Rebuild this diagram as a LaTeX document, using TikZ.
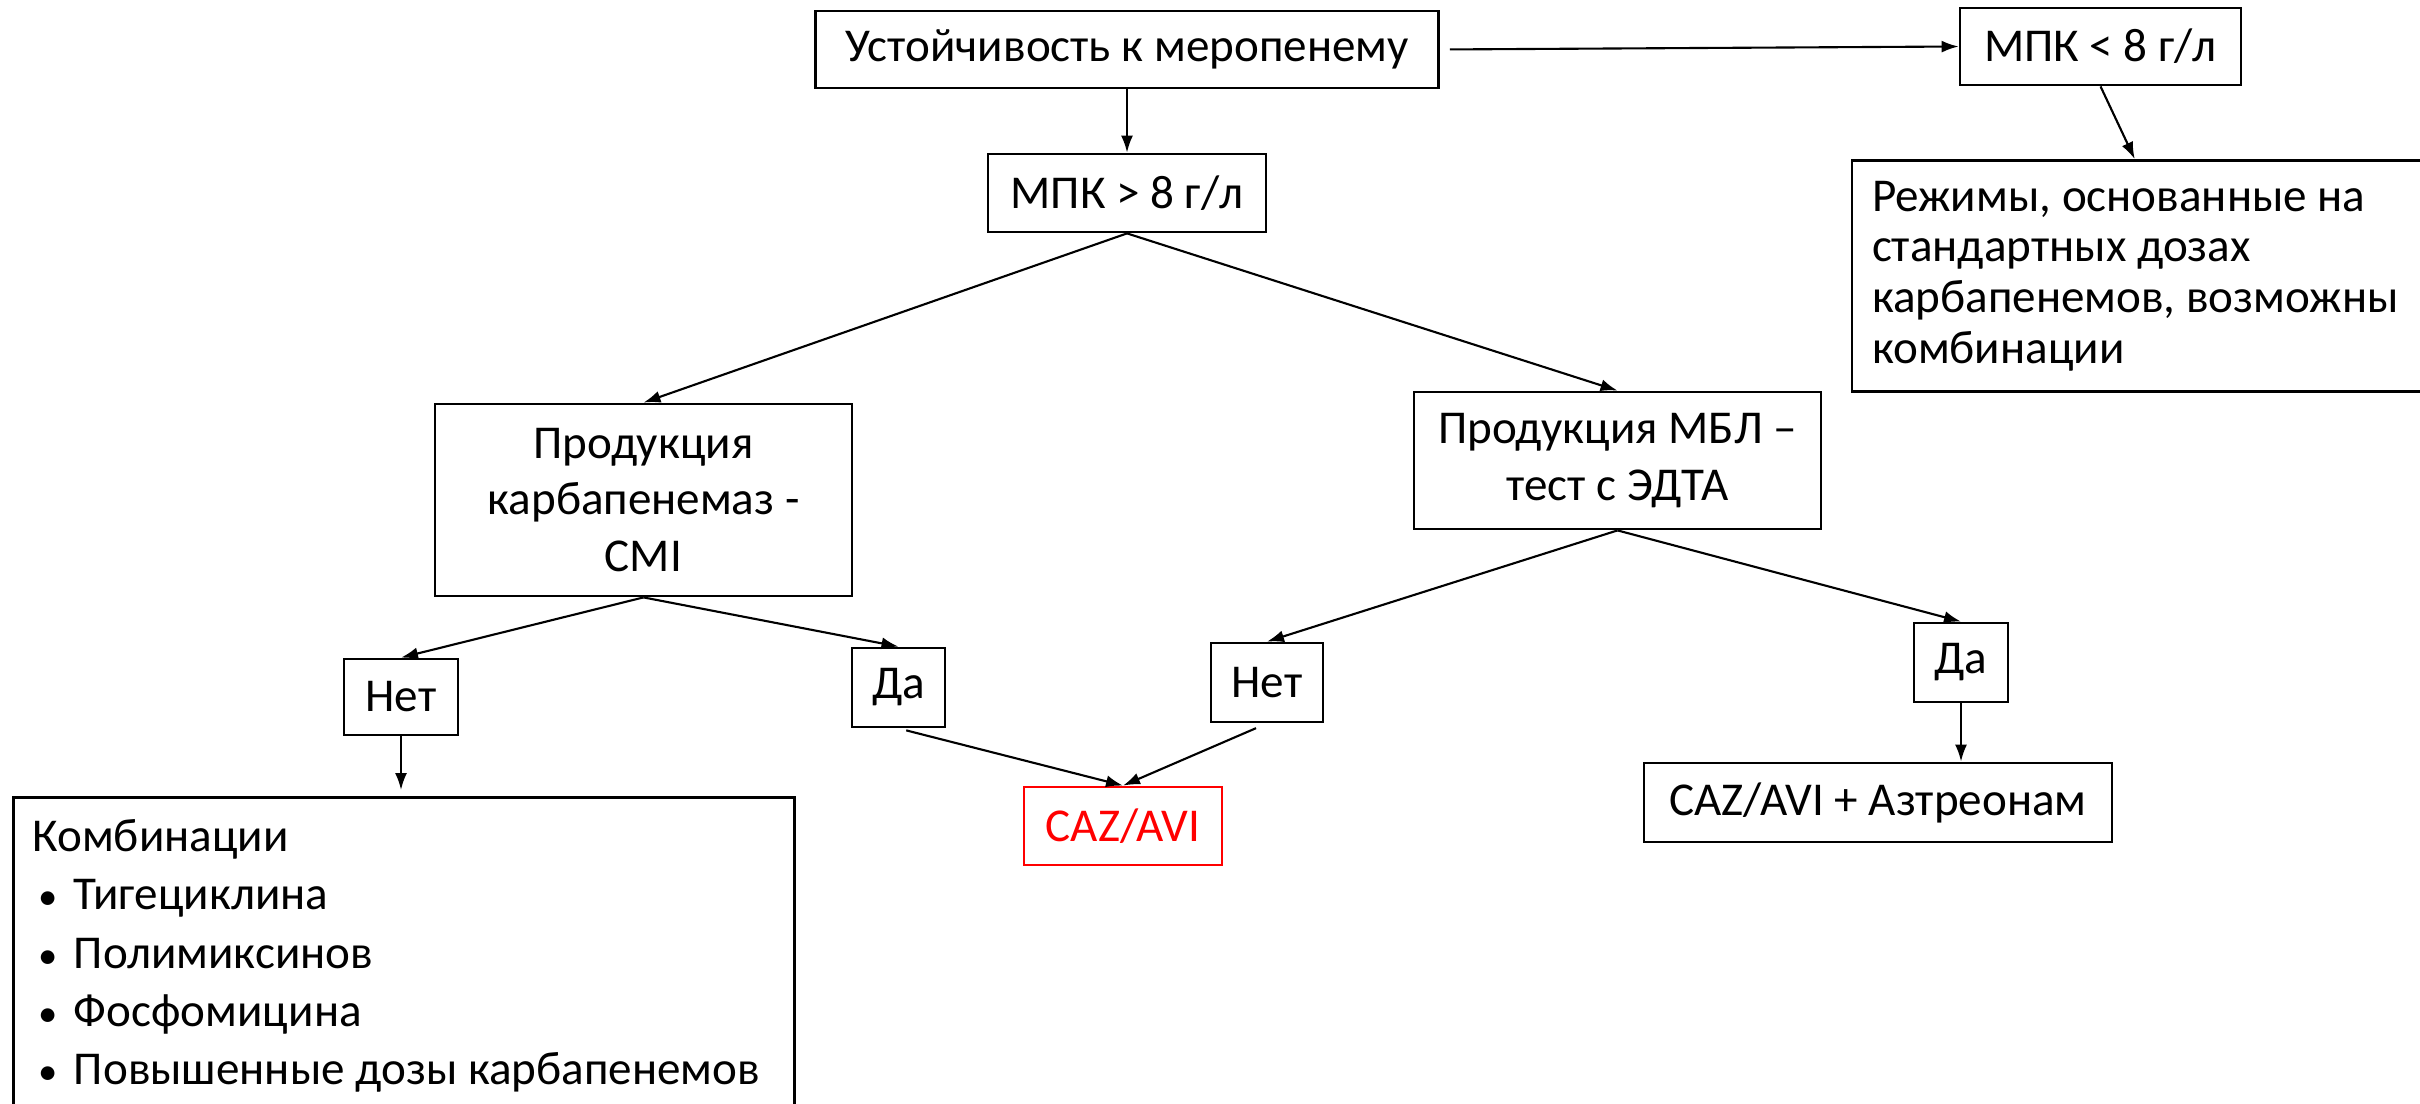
\documentclass[tikz,border=0pt]{standalone}
\usepackage{fontspec}
\setmainfont{Carlito}
\usetikzlibrary{arrows.meta}

\tikzstyle{box}=[draw, line width=0.8pt, inner sep=0pt, align=center, font=\fontsize{13.4}{16}\selectfont]
\tikzstyle{arr}=[-{Latex[length=0.17cm,width=0.12cm]}, line width=0.6pt]
\newcommand{\bulletitem}[1]{\makebox[0.415cm][l]{\hspace{0.06cm}{\fontsize{11}{11}\selectfont •}}#1}

\begin{document}
\begin{tikzpicture}
            \useasboundingbox (0,0) rectangle (24.2,-11.03);
            \clip (0,0) rectangle (24.2,-11.03);
            \node[box, minimum width=6.23cm, minimum height=0.77cm] at (11.27,-0.495) (R) {Устойчивость к меропенему};
            \node[box, minimum width=2.81cm, minimum height=0.77cm] at (21.005,-0.465) (L) {МПК < 8 г/л};
            \node[box, minimum width=2.78cm, minimum height=0.78cm] at (11.27,-1.93) (G) {МПК > 8 г/л};
            \node[box, align=flush left, text width=5.5cm, inner xsep=0.2cm, minimum height=2.31cm,
                  font=\fontsize{13.4}{14.4}\selectfont] at (21.47,-2.76) (S) {Режимы, основанные на\\стандартных дозах\\карбапенемов, возможны\\комбинации};
            \node[box, minimum width=4.17cm, minimum height=1.92cm] at (6.435,-5.0) (C) {Продукция\\карбапенемаз -\\CMI};
            \node[box, minimum width=4.07cm, minimum height=1.37cm] at (16.175,-4.605) (M) {Продукция МБЛ –\\тест с ЭДТА};
            \node[box, minimum width=1.14cm, minimum height=0.76cm] at (4.01,-6.97) (N1) {Нет};
            \node[box, minimum width=0.93cm, minimum height=0.79cm] at (8.985,-6.875) (D1) {Да};
            \node[box, minimum width=1.12cm, minimum height=0.79cm] at (12.67,-6.825) (N2) {Нет};
            \node[box, minimum width=0.94cm, minimum height=0.79cm] at (19.61,-6.625) (D2) {Да};
            \node[box, draw=red, text=red, minimum width=1.98cm, minimum height=0.78cm] at (11.23,-8.26) (V) {CAZ/AVI};
            \node[box, minimum width=4.68cm, minimum height=0.79cm] at (18.78,-8.025) (VA) {CAZ/AVI + Азтреонам};
            \node[box, anchor=north west, align=flush left, text width=7.43cm, inner xsep=0.19cm, inner ysep=0.22cm,
                  font=\fontsize{13.4}{16.6}\selectfont, text depth=3.2cm] at (0.12,-7.96) (K) {Комбинации\\
                  \bulletitem{Тигециклина}\\
                  \bulletitem{Полимиксинов}\\
                  \bulletitem{Фосфомицина}\\
                  \bulletitem{Повышенные дозы карбапенемов}};
            \draw[arr, shorten <=0.1cm] (R.east) -- (L.west);
            \draw[arr] (R.south) -- (G.north);
            \draw[arr] (L.south) -- (S.96);
            \draw[arr] (G.south) -- (C.north);
            \draw[arr] (G.south) -- (M.north);
            \draw[arr] (C.south) -- (N1.north);
            \draw[arr] (C.south) -- (D1.north);
            \draw[arr] (M.south) -- (N2.north);
            \draw[arr] (M.south) -- (D2.north);
            \draw[arr, shorten >=0.06cm] (N1.south) -- (N1.south |- K.north);
            \draw[arr, shorten <=0.08cm] (D1.south) -- (V.north);
            \draw[arr, shorten <=0.12cm] (N2.south) -- (V.north);
            \draw[arr] (D2.south) -- (D2.south |- VA.north);
        \end{tikzpicture}
\end{document}
